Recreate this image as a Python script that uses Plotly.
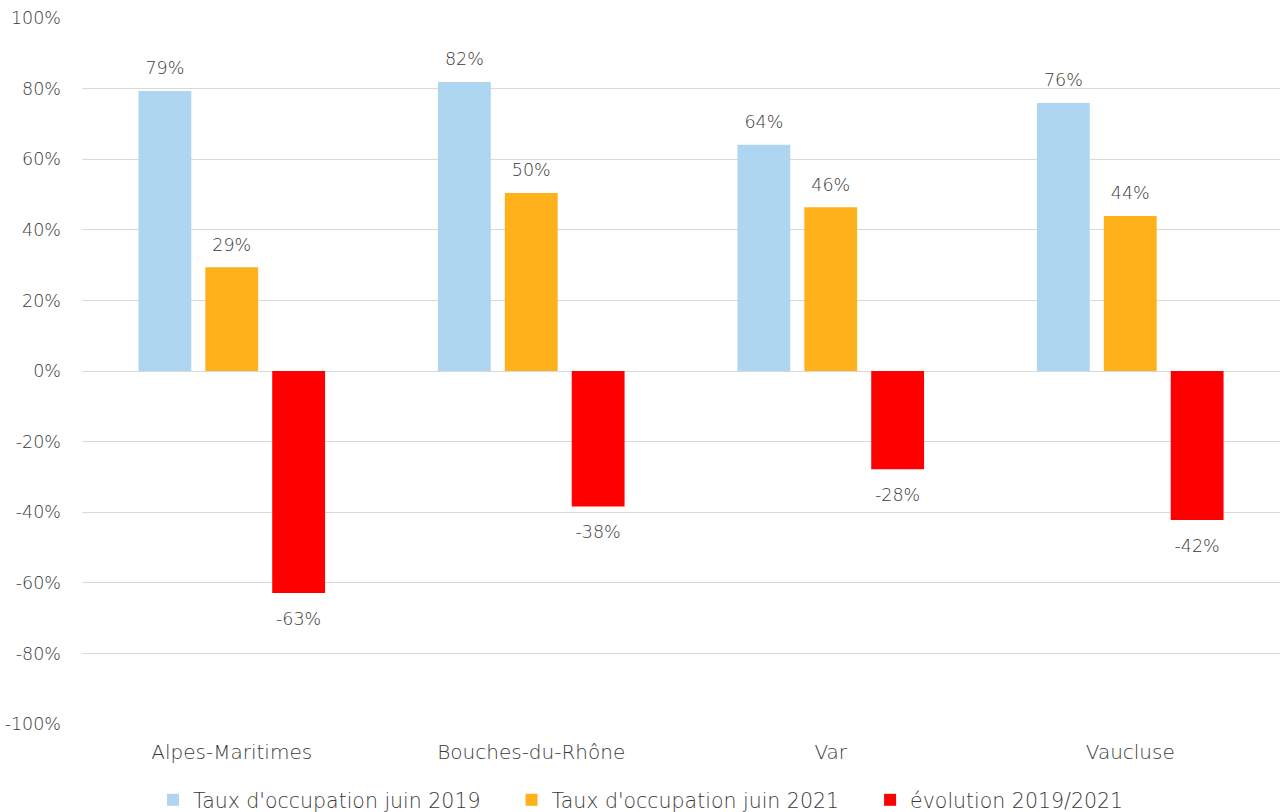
import plotly.graph_objects as go

categories = ["Alpes-Maritimes", "Bouches-du-Rhône", "Var", "Vaucluse"]
series_names = ["Taux d'occupation juin 2019", "Taux d'occupation juin 2021", "évolution 2019/2021"]
taux_2019 = [79.3, 81.9, 64.1, 75.9]
taux_2021 = [29.4, 50.4, 46.4, 43.9]
evolution = [-62.9, -38.4, -27.8, -42.2]
colors = ["#AED6F0", "#FFB11B", "#FF0000"]
y_ticks = [-100, -80, -60, -40, -20, 0, 20, 40, 60, 80, 100]

FONT = "DejaVu Sans, sans-serif"
TXT = "#3A3A3A"
W = 200
NB = "\u00a0"

fig = go.Figure()
for i, (name, vals, col) in enumerate(zip(series_names, [taux_2019, taux_2021, evolution], colors)):
    label = name + (NB * 4 if i < 2 else "")
    fig.add_trace(go.Bar(
        x=categories, y=vals, name=label, marker=dict(color=col, line=dict(width=0)),
        hoverinfo="skip",
    ))
for name, vals in zip(series_names, [taux_2019, taux_2021, evolution]):
    fig.add_trace(go.Scatter(
        x=categories, y=vals, mode="markers+text", showlegend=False,
        marker=dict(size=[18 if v >= 0 else 28 for v in vals], opacity=0), hoverinfo="skip",
        text=[f"{round(v):d}%" for v in vals],
        textposition=["top center" if v >= 0 else "bottom center" for v in vals],
        textfont=dict(family=FONT, size=17.5, color=TXT, weight=W), cliponaxis=False,
    ))

fig.update_layout(
    width=1282, height=812, barmode="group", bargap=0.33, bargroupgap=0.21,
    scattermode="group", scattergap=0.33,
    plot_bgcolor="white", paper_bgcolor="white",
    margin=dict(l=82, r=2, t=18, b=88),
    font=dict(family=FONT, size=19, color=TXT, weight=W),
    showlegend=True,
    legend=dict(orientation="h", x=0.5, xanchor="center", xref="container",
                y=0.0148, yanchor="middle", yref="container",
                font=dict(family=FONT, size=20.5, color=TXT, weight=W), itemwidth=30,
                tracegroupgap=0, traceorder="normal"),
)
fig.update_xaxes(showgrid=False, showline=False, zeroline=False, ticks="", automargin=False,
                 ticklabelstandoff=14, tickfont=dict(family=FONT, size=20, color=TXT, weight=W))
fig.update_yaxes(range=[-100, 100], tickvals=y_ticks, ticktext=[f"{v}%" for v in y_ticks],
                 showgrid=True, gridcolor="#D9D9D9", gridwidth=1.3, zeroline=True,
                 zerolinecolor="#D9D9D9", zerolinewidth=1.3, showline=False, automargin=False,
                 ticklabelstandoff=20, tickfont=dict(family=FONT, size=17.5, color=TXT, weight=W))

fig.write_html("out.html", config={"displayModeBar": False},
               post_script="document.body.style.margin='0';document.body.style.overflow='hidden';")
